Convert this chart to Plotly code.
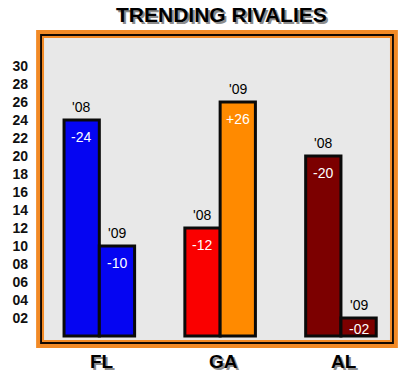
import plotly.graph_objects as go

# ---- data ----
states = ["FL", "GA", "AL"]
years = ["'08", "'09"]
v08 = [24, 12, 20]
v09 = [10, 26, 2]
lab08 = ["-24", "-12", "-20"]
lab09 = ["-10", "+26", "-02"]
col08 = ["#0505F2", "#FA0000", "#7C0000"]
col09 = ["#0505F2", "#FF8A00", "#7C0000"]
ytick_vals = [2, 4, 6, 8, 10, 12, 14, 16, 18, 20, 22, 24, 26, 28, 30]
ytick_text = ["02", "04", "06", "08", "10", "12", "14", "16", "18", "20",
              "22", "24", "26", "28", "30"]
title = "TRENDING RIVALIES"

# ---- layout geometry ----
W, H = 402, 384
L, R, T, B = 37, 390, 38, 340          # plot area in pixels
PW, PH = R - L, B - T
XR = [-0.458, 2.406]
YR = [-0.44, 33.1]
BARGAP = 0.416
ORANGE = "#F28A26"
FONT = "Liberation Sans, Arial, sans-serif"


def px(x):
    return (x - L) / PW


def py(y):
    return (B - y) / PH


unit_px = PW / (XR[1] - XR[0])
y_unit_px = PH / (YR[1] - YR[0])
half_off = (1 - BARGAP) / 4 * unit_px

fig = go.Figure()
for vals, cols in ((v08, col08), (v09, col09)):
    fig.add_trace(go.Bar(
        x=states, y=vals,
        marker=dict(color=cols, line=dict(color="#0A0A0A", width=3)),
        hoverinfo="skip", showlegend=False,
    ))

ann = []
for i, s in enumerate(states):
    for j, (vals, labs) in enumerate(((v08, lab08), (v09, lab09))):
        shift = -half_off if j == 0 else half_off
        pad = -7 if vals[i] * y_unit_px > 30 else -1
        ann.append(dict(x=s, y=vals[i], xref="x", yref="y", text=labs[i],
                        showarrow=False, xanchor="center", yanchor="top",
                        xshift=shift, yshift=pad,
                        font=dict(family=FONT, size=14, color="white")))
        ann.append(dict(x=s, y=vals[i], xref="x", yref="y", text=years[j],
                        showarrow=False, xanchor="center", yanchor="bottom",
                        xshift=shift, yshift=3,
                        font=dict(family=FONT, size=14, color="black")))
    # category labels with shadow
    for dx, dy, c in ((2, -2, "#8C8C8C"), (0, 0, "black")):
        ann.append(dict(x=s, y=py(361), xref="x", yref="paper", text="<b>%s</b>" % s,
                        showarrow=False, xanchor="center", yanchor="middle",
                        xshift=dx + 3, yshift=dy,
                        font=dict(family=FONT, size=19, color=c)))

for dx, dy, c in ((2, -2, "#8C8C8C"), (0, 0, "black")):
    ann.append(dict(x=px(218), y=py(15), xref="paper", yref="paper",
                    text="<b>%s</b>" % title, showarrow=False,
                    xanchor="center", yanchor="middle", xshift=dx, yshift=dy,
                    font=dict(family=FONT, size=21, color=c)))

# frame: outer orange, black, inner orange
shapes = []
for (x0, y0, x1, y1, w, c) in ((31, 32, 396, 346, 4, ORANGE),
                               (34, 35, 393, 343, 2, "#140800"),
                               (36, 37, 391, 341, 2, ORANGE)):
    shapes.append(dict(type="rect", xref="paper", yref="paper",
                       x0=px(x0), x1=px(x1), y0=py(y1), y1=py(y0),
                       line=dict(color=c, width=w), layer="below"))

fig.update_layout(
    width=W, height=H,
    margin=dict(l=L, r=W - R, t=T, b=H - B, pad=0),
    paper_bgcolor="white", plot_bgcolor="#E8E8E8",
    barmode="group", bargap=BARGAP, bargroupgap=0,
    xaxis=dict(range=XR, showticklabels=False, showgrid=False, zeroline=False,
               ticks="", fixedrange=True),
    yaxis=dict(range=YR, tickvals=ytick_vals, ticktext=ytick_text,
               showgrid=False, zeroline=False, ticks="", ticklabelstandoff=15,
               fixedrange=True,
               tickfont=dict(family=FONT, size=14, color="#111", weight="bold")),
    annotations=ann, shapes=shapes,
)

fig.write_html("out.html",
               config={"displayModeBar": False},
               post_script="document.body.style.margin='0px';"
                           "document.body.style.overflow='hidden';")
